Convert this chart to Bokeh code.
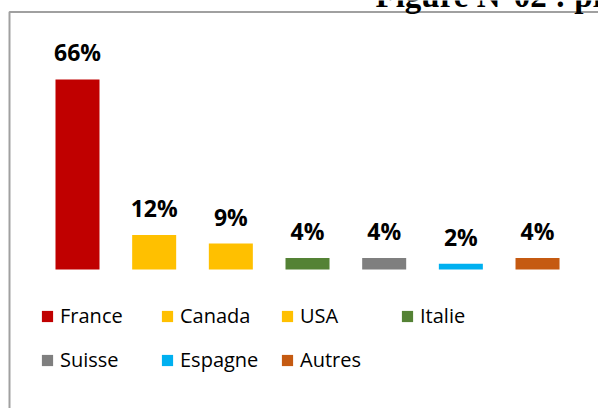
from bokeh.plotting import figure
from bokeh.models import ColumnDataSource, Range1d, Label
from bokeh.core.properties import value
from bokeh.embed import file_html
from bokeh.resources import INLINE

categories = ["France", "Canada", "USA", "Italie", "Suisse", "Espagne", "Autres"]
shares = [66, 12, 9, 4, 4, 2, 4]
colors = ["#C00000", "#FFC000", "#FFC000", "#548235", "#7F7F7F", "#00B0F0", "#C55A11"]
title_text = "Figure N°02 : pr"

src = ColumnDataSource(dict(
    x=list(range(len(categories))),
    share=shares,
    cat=categories,
    color=colors,
    label=[f"{v}%" for v in shares],
))

W, H = 598, 408
k = 76.67      # px per category
ky = 2.88      # px per percent
x0 = -77 / k
y0 = -139 / ky
xr = Range1d(x0, x0 + W / k)
yr = Range1d(y0, y0 + H / ky)

p = figure(width=W, height=H, output_backend="svg", toolbar_location=None,
           x_range=xr, y_range=yr, min_border=0)
p.axis.visible = False
p.grid.visible = False
p.outline_line_color = None
p.background_fill_color = "white"
p.border_fill_color = "white"

# frame border (left and top)
bx = x0 + 9 / k
by = yr.end - 11.5 / ky
p.line(x=[bx, bx, xr.end], y=[yr.start, by, by], line_color="#A0A0A0", line_width=2)

p.vbar(x="x", top="share", width=0.574, source=src, fill_color="color", line_color=None,
       legend_field="cat")

p.text(x="x", y="share", text="label", source=src, text_align="center",
       text_baseline="alphabetic", y_offset=-27, text_font=value("Open Sans"),
       text_font_style="bold", text_font_size="23px", text_color="black")

p.add_layout(Label(x=375, y=413, x_units="screen", y_units="screen", text=title_text,
                   text_font="Liberation Serif", text_font_style="bold",
                   text_font_size="33px", text_baseline="alphabetic", text_color="black"))

lg = p.legend[0]
lg.ncols = 4
lg.orientation = "horizontal"
lg.location = (40, 35)
lg.padding = 0
lg.margin = 0
lg.border_line_color = None
lg.background_fill_alpha = 0
lg.glyph_width = 14
lg.glyph_height = 14
lg.label_standoff = 6
lg.label_height = 20
lg.label_width = 83
lg.spacing = 17
lg.label_text_font = "Open Sans"
lg.label_text_font_size = "20px"
lg.label_text_color = "black"

open("out.html", "w").write(file_html(p, INLINE))
